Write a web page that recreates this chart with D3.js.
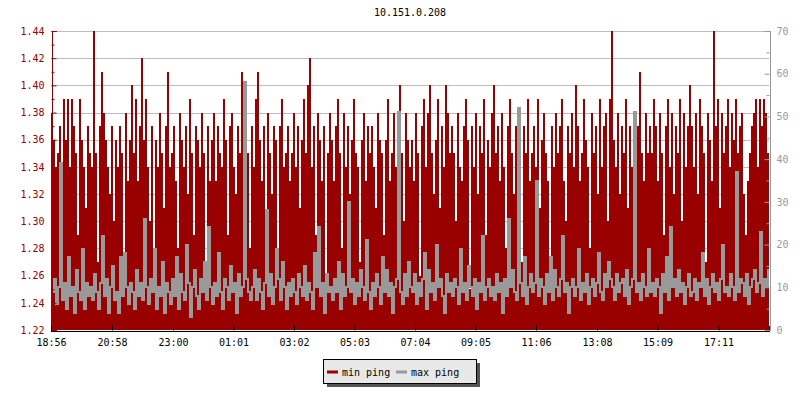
<!DOCTYPE html>
<html lang="en">
<head>
<meta charset="UTF-8">
<title>10.151.0.208</title>
<script src="https://cdn.jsdelivr.net/npm/d3@7"></script>
<style>
    body { margin: 0; background: #fff; }
    svg { display: block; font-family: "DejaVu Sans Mono", monospace; }
</style>
</head>
<body>
<div id="chart"></div>
<script>
    const chartTitle = "10.151.0.208";
    const startTime = "18:56";
    const spanMinutes = 1436;
    const stepMinutes = 4;
    const timeLabels = ["18:56", "20:58", "23:00", "01:01", "03:02", "05:03", "07:04", "09:05", "11:06", "13:08", "15:09", "17:11"];
    const leftTicks = [1.22, 1.24, 1.26, 1.28, 1.30, 1.32, 1.34, 1.36, 1.38, 1.40, 1.42, 1.44];
    const rightTicks = [0, 10, 20, 30, 40, 50, 60, 70];
    const seriesNames = ["min ping", "max ping"];

    // min ping (left axis), one value every 4 minutes
    const minPing = [
        1.38,1.36,1.34,1.35,1.37,1.33,1.39,1.36,1.39,1.34,1.39,1.37,1.35,1.29,1.39,1.36,1.34,1.31,1.37,1.35,
        1.34,1.44,1.35,1.27,1.37,1.41,1.38,1.36,1.34,1.32,1.37,1.30,1.36,1.34,1.37,1.35,1.26,1.38,1.33,1.36,
        1.40,1.35,1.39,1.33,1.37,1.42,1.36,1.39,1.34,1.30,1.37,1.25,1.36,1.34,1.38,1.35,1.31,1.37,1.41,1.34,
        1.35,1.37,1.33,1.28,1.38,1.36,1.34,1.37,1.32,1.39,1.35,1.29,1.37,1.36,1.34,1.38,1.35,1.26,1.37,1.33,
        1.36,1.38,1.33,1.37,1.35,1.34,1.39,1.36,1.29,1.37,1.38,1.34,1.32,1.37,1.35,1.41,1.33,1.37,1.35,1.28,
        1.37,1.34,1.39,1.41,1.36,1.33,1.37,1.30,1.38,1.35,1.32,1.37,1.36,1.26,1.37,1.39,1.34,1.35,1.37,1.33,
        1.35,1.38,1.34,1.37,1.31,1.36,1.39,1.35,1.40,1.42,1.34,1.37,1.29,1.38,1.36,1.33,1.37,1.25,1.35,1.38,
        1.36,1.33,1.37,1.39,1.35,1.28,1.38,1.34,1.37,1.32,1.36,1.39,1.35,1.34,1.27,1.36,1.38,1.33,1.37,1.35,
        1.37,1.34,1.31,1.38,1.36,1.35,1.29,1.36,1.39,1.33,1.35,1.38,1.34,1.37,1.40,1.35,1.30,1.38,1.36,1.34,
        1.36,1.33,1.38,1.35,1.26,1.37,1.39,1.34,1.38,1.40,1.35,1.32,1.36,1.39,1.31,1.37,1.34,1.40,1.38,1.35,
        1.37,1.35,1.30,1.38,1.34,1.33,1.37,1.39,1.36,1.25,1.37,1.34,1.38,1.32,1.37,1.35,1.39,1.29,1.36,1.34,
        1.38,1.40,1.35,1.37,1.33,1.38,1.34,1.28,1.37,1.39,1.35,1.32,1.37,1.38,1.34,1.27,1.37,1.35,1.39,1.33,
        1.35,1.37,1.34,1.39,1.31,1.36,1.38,1.35,1.33,1.26,1.37,1.34,1.38,1.35,1.37,1.39,1.33,1.30,1.37,1.35,
        1.38,1.34,1.40,1.37,1.33,1.35,1.39,1.36,1.34,1.28,1.38,1.35,1.37,1.32,1.39,1.34,1.37,1.38,1.30,1.39,
        1.44,1.36,1.34,1.38,1.32,1.37,1.35,1.39,1.31,1.37,1.34,1.38,1.26,1.37,1.41,1.35,1.33,1.38,1.35,1.37,
        1.35,1.39,1.37,1.33,1.38,1.35,1.29,1.37,1.39,1.34,1.38,1.32,1.37,1.35,1.39,1.30,1.38,1.34,1.37,1.40,
        1.37,1.34,1.38,1.32,1.39,1.37,1.35,1.27,1.38,1.36,1.33,1.44,1.37,1.39,1.31,1.38,1.35,1.37,1.39,1.34,
        1.38,1.36,1.39,1.35,1.37,1.38,1.32,1.29,1.33,1.35,1.37,1.38,1.39,1.34,1.39,1.37,1.39,1.38,1.35
    ];

    // max ping (right axis)
    const maxPing = [
        9,12,6,10,39,7,11,5,17,8,10,4,14,9,7,19,5,11,8,10,
        7,13,9,5,11,22,8,12,4,10,15,7,9,4,17,8,18,10,6,11,
        9,5,14,8,11,7,26,10,6,12,9,19,5,10,8,16,4,11,9,6,
        12,8,17,5,13,9,7,20,11,3,10,14,8,5,12,9,16,7,24,10,
        6,11,8,18,9,5,12,10,7,15,9,11,4,13,8,10,58,12,9,7,
        10,14,7,12,9,5,11,28,8,13,6,10,19,12,7,16,10,5,11,8,
        12,9,6,13,10,8,15,7,11,9,5,18,10,24,8,11,4,13,9,10,
        7,12,9,16,5,13,8,10,30,9,12,6,11,8,14,10,7,21,9,5,
        11,8,13,10,6,17,9,14,8,11,4,10,12,51,9,6,13,8,16,10,
        9,13,6,11,8,12,18,5,14,9,11,7,20,10,12,8,4,13,9,11,
        8,12,10,6,19,9,11,7,15,10,8,12,5,11,9,22,7,10,12,8,
        10,7,13,9,11,4,12,8,26,10,14,9,7,52,11,8,17,6,10,13,
        9,11,35,8,12,10,6,13,9,17,7,14,10,8,12,22,9,11,4,10,
        12,8,10,19,7,11,9,13,6,10,12,8,11,18,9,7,13,10,16,12,
        10,7,13,9,11,12,8,14,6,10,12,51,9,11,7,13,10,8,19,9,
        11,8,12,10,4,13,9,17,7,24,10,12,8,14,9,11,6,10,13,8,
        9,12,7,11,10,18,8,12,6,10,13,9,11,7,12,20,9,10,8,13,
        10,7,37,9,12,11,8,13,6,10,12,14,9,11,23,8,12,10,14
    ];

    const width = 800, height = 400;
    const plot = { left: 51, right: 769, top: 31, bottom: 330 };
    const red = "#990000", gray = "#999999";

    const parseTime = d3.timeParse("%H:%M");
    const start = parseTime(startTime);
    const toDate = s => {
        let t = parseTime(s);
        if (t < start) t = d3.timeDay.offset(t, 1);
        return t;
    };

    const x = d3.scaleTime()
        .domain([start, d3.timeMinute.offset(start, spanMinutes)])
        .range([plot.left, plot.right]);
    const yL = d3.scaleLinear().domain([1.22, 1.44]).range([plot.bottom, plot.top]);
    const yR = d3.scaleLinear().domain([0, 70]).range([plot.bottom, plot.top]);
    const at = i => d3.timeMinute.offset(start, i * stepMinutes);

    const svg = d3.select("#chart").append("svg")
        .attr("width", width).attr("height", height);

    svg.append("defs").append("clipPath").attr("id", "clip")
        .append("rect")
        .attr("x", plot.left).attr("y", plot.top)
        .attr("width", plot.right - plot.left).attr("height", plot.bottom - plot.top);

    // title
    svg.append("text")
        .attr("x", (plot.left + plot.right) / 2).attr("y", 16)
        .attr("text-anchor", "middle")
        .attr("font-size", 10)
        .attr("fill", "#000")
        .text(chartTitle);

    // grid
    svg.append("g").selectAll("line")
        .data(leftTicks.slice(1))
        .join("line")
        .attr("x1", plot.left).attr("x2", plot.right)
        .attr("y1", d => Math.round(yL(d)) + 0.5).attr("y2", d => Math.round(yL(d)) + 0.5)
        .attr("stroke", "#bdbdbd");

    const clipped = g => g.attr("clip-path", "url(#clip)");

    // min ping area
    svg.append("g").call(clipped)
        .attr("shape-rendering", "crispEdges")
        .selectAll("rect")
        .data(minPing)
        .join("rect")
        .attr("x", (d, i) => x(at(i)))
        .attr("width", (d, i) => x(at(i + 1)) - x(at(i)))
        .attr("y", d => yL(d))
        .attr("height", d => plot.bottom - yL(d))
        .attr("fill", red);

    // max ping line (2px wide so the steps read like the dense 1px trace)
    const pts = maxPing.map((v, i) => [at(i), v]);
    pts.push([at(maxPing.length), maxPing[maxPing.length - 1]]);
    svg.append("g").call(clipped)
        .append("path")
        .datum(pts)
        .attr("fill", "none")
        .attr("stroke", gray)
        .attr("stroke-width", 2)
        .attr("stroke-linejoin", "miter")
        .attr("shape-rendering", "crispEdges")
        .attr("d", d3.line()
            .x(d => Math.round(x(d[0])) + 1)
            .y(d => Math.round(yR(d[1])))
            .curve(d3.curveStepAfter));

    // left axis
    const minorL = d3.range(1.23, 1.44, 0.02);
    const gL = svg.append("g")
        .attr("transform", `translate(${plot.left + 0.5},0)`)
        .call(d3.axisLeft(yL).tickValues(leftTicks).tickSize(-5).tickPadding(7)
            .tickFormat(d3.format(".2f")));
    gL.append("g").call(d3.axisLeft(yL).tickValues(minorL).tickSize(-3).tickFormat(""))
        .select(".domain").remove();
    gL.selectAll("path, line").attr("stroke", red);
    gL.selectAll("text").attr("fill", red).attr("font-size", 10)
        .attr("font-family", "DejaVu Sans Mono, monospace");

    // right axis
    const minorR = d3.range(5, 70, 10);
    const gR = svg.append("g")
        .attr("transform", `translate(${plot.right + 0.5},0)`)
        .call(d3.axisRight(yR).tickValues(rightTicks).tickSize(-5).tickPadding(7));
    gR.append("g").call(d3.axisRight(yR).tickValues(minorR).tickSize(-3).tickFormat(""))
        .select(".domain").remove();
    gR.selectAll("path, line").attr("stroke", gray);
    gR.selectAll("text").attr("fill", gray).attr("font-size", 10)
        .attr("font-family", "DejaVu Sans Mono, monospace");

    // time axis
    const gX = svg.append("g")
        .attr("transform", `translate(0,${plot.bottom + 0.5})`)
        .call(d3.axisBottom(x).tickValues(timeLabels.map(toDate)).tickSize(-5).tickPadding(8)
            .tickFormat(d3.timeFormat("%H:%M")));
    gX.selectAll("path, line").attr("stroke", "#000");
    gX.selectAll("text").attr("fill", "#000").attr("font-size", 10)
        .attr("font-family", "DejaVu Sans Mono, monospace");
    svg.selectAll(".domain").attr("shape-rendering", "crispEdges");
    gR.raise();

    // legend
    const lg = svg.append("g").attr("transform", "translate(323,359)");
    lg.append("rect").attr("x", 4).attr("y", 4).attr("width", 153).attr("height", 24).attr("fill", "#555");
    lg.append("rect").attr("x", 0.5).attr("y", 0.5).attr("width", 153).attr("height", 24)
        .attr("fill", "#e8e8e8").attr("stroke", "#000");
    const items = lg.selectAll(".item")
        .data(seriesNames)
        .join("g")
        .attr("class", "item")
        .attr("transform", (d, i) => `translate(${4 + i * 69},0)`);
    items.append("line")
        .attr("x1", 0).attr("x2", 11).attr("y1", 13).attr("y2", 13)
        .attr("stroke", (d, i) => i === 0 ? red : gray)
        .attr("stroke-width", 3);
    items.append("text")
        .attr("x", 15).attr("y", 16.5)
        .attr("font-size", 10)
        .attr("fill", "#000")
        .text(d => d);
</script>
</body>
</html>
